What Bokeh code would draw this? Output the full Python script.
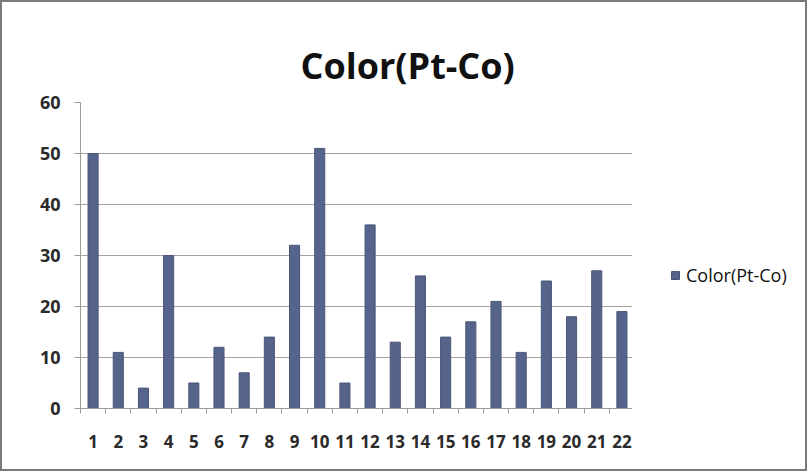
from bokeh.plotting import figure
from bokeh.models import ColumnDataSource, FixedTicker, Legend, LegendItem, Range1d, Title
from bokeh.layouts import row
from bokeh.embed import file_html
from bokeh.resources import INLINE

categories = [str(i) for i in range(1, 23)]
values = [50, 11, 4, 30, 5, 12, 7, 14, 32, 51, 5, 36, 13, 26, 14, 17, 21, 11, 25, 18, 27, 19]
series_name = "Color(Pt-Co)"
y_ticks = [0, 10, 20, 30, 40, 50, 60]

BAR_FILL = "#56648c"
BAR_LINE = "#4a5679"
BORDER = "2px solid #7a7a7a"

xpos = list(range(1, len(categories) + 1))
src = ColumnDataSource(dict(x=xpos, top=values, label=categories))

p = figure(width=632, height=471, output_backend="svg", toolbar_location=None,
           x_range=Range1d(0.5, len(categories) + 0.5), y_range=Range1d(0, 60),
           min_border_left=78, min_border_right=0, min_border_top=100, min_border_bottom=65)
p.styles = {"border-left": BORDER, "border-top": BORDER, "border-bottom": BORDER,
            "box-sizing": "border-box"}

# invisible spacer next to the frame, then the real title above it
spacer = Title(text=".", text_alpha=0, text_font_size="14px", standoff=8)
p.add_layout(spacer, "above")
main_title = Title(text=series_name, align="left", offset=220,
                   text_font="Open Sans", text_font_size="36px", text_font_style="bold",
                   text_color="#111111", standoff=25)
p.add_layout(main_title, "above")

p.vbar(x="x", top="top", width=0.4, source=src, fill_color=BAR_FILL, line_color=BAR_LINE, line_width=1)

p.outline_line_color = None
p.background_fill_color = "white"
p.border_fill_color = "white"

# Y axis
p.yaxis.ticker = FixedTicker(ticks=y_ticks)
p.yaxis.axis_line_color = "#a09a9a"
p.yaxis.major_tick_line_color = "#a09a9a"
p.yaxis.major_tick_out = 6
p.yaxis.major_tick_in = 0
p.yaxis.minor_tick_line_color = None
p.yaxis.major_label_text_font = "Open Sans"
p.yaxis.major_label_text_font_size = "18px"
p.yaxis.major_label_text_font_style = "bold"
p.yaxis.major_label_text_color = "#2a2a2a"
p.yaxis.major_label_standoff = 14

# X axis: labels at category centers, ticks at boundaries
p.xaxis.ticker = FixedTicker(ticks=xpos, minor_ticks=[i + 0.5 for i in range(0, len(categories) + 1)])
p.xaxis.major_label_overrides = {x: c for x, c in zip(xpos, categories)}
p.xaxis.major_tick_line_color = None
p.xaxis.minor_tick_line_color = "#a09a9a"
p.xaxis.minor_tick_out = 5
p.xaxis.minor_tick_in = 0
p.xaxis.axis_line_color = "#a09a9a"
p.xaxis.major_label_text_font = "Open Sans"
p.xaxis.major_label_text_font_size = "17px"
p.xaxis.major_label_text_font_style = "bold"
p.xaxis.major_label_text_color = "#2a2a2a"
p.xaxis.major_label_standoff = 20

p.xgrid.grid_line_color = None
p.ygrid.grid_line_color = "#a8a2a2"
p.ygrid.grid_line_width = 1.2

# Legend panel on the right (its own figure, frames aligned with the chart)
q = figure(width=175, height=471, output_backend="svg", toolbar_location=None,
           x_axis_type=None, y_axis_type=None,
           x_range=Range1d(-10, -9), y_range=Range1d(0, 60),
           min_border=0)
q.styles = {"border-right": BORDER, "border-top": BORDER, "border-bottom": BORDER,
            "box-sizing": "border-box"}
q.outline_line_color = None
q.xgrid.grid_line_color = None
q.ygrid.grid_line_color = None
q.background_fill_color = "white"
q.border_fill_color = "white"
swatch = q.vbar(x="x", top="top", width=0.4, source=src, fill_color=BAR_FILL,
                line_color=BAR_LINE, line_width=1)

legend = Legend(items=[LegendItem(label=series_name, renderers=[swatch])],
                location=(38, 121), border_line_color=None, background_fill_alpha=0,
                label_text_font="Open Sans", label_text_font_size="18px",
                label_text_color="#111111", glyph_width=10, glyph_height=10,
                label_standoff=6, padding=0, margin=0)
q.add_layout(legend, "center")

layout = row(p, q, spacing=0)
open("out.html", "w").write(file_html(layout, INLINE))
